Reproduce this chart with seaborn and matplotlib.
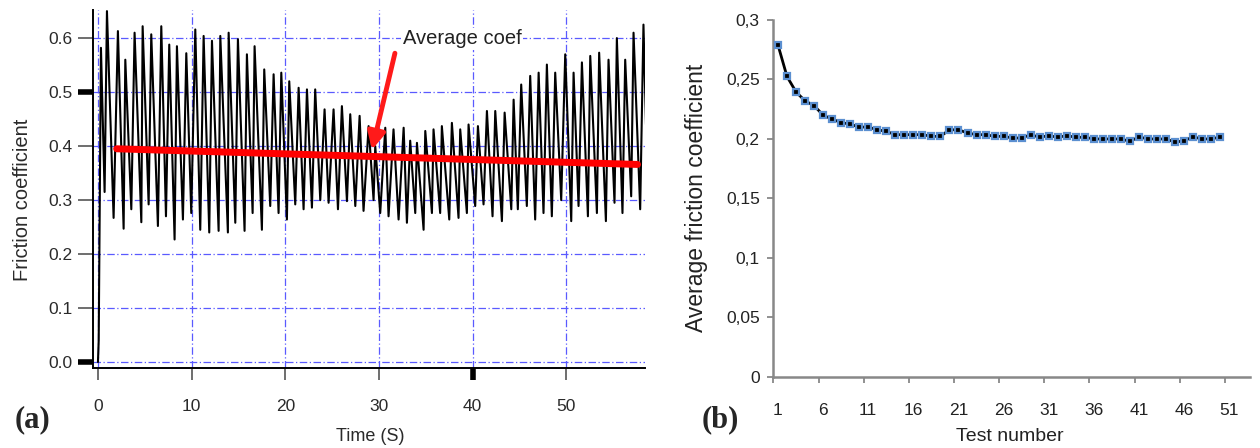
import matplotlib
matplotlib.use("Agg")
import matplotlib.pyplot as plt
import matplotlib.ticker as mticker
import numpy as np
import pandas as pd
import seaborn as sns

# ---- panel (a): friction signal, read peak by peak from the figure ----
start_t = [0.0, 0.08]
start_v = [0.0, 0.04]

peak_t = [0.32, 0.96, 2.13, 2.92, 3.91, 4.77, 5.69, 6.76, 7.61, 8.43, 9.43, 10.39, 11.28, 12.17, 13.06, 13.95,
          14.94, 15.90, 16.72, 17.75, 18.75, 19.57, 20.42, 21.42, 22.31, 23.19, 24.19, 25.15, 26.04, 26.93, 27.93, 28.89,
          29.60, 30.67, 31.55, 32.63, 33.33, 34.05, 34.94, 35.82, 36.71, 37.78, 38.67, 39.56, 40.56, 41.52, 42.41, 43.41, 44.37,
          45.18, 46.14, 47.04, 47.92, 48.81, 49.88, 50.77, 51.66, 52.55, 53.50, 54.50, 55.39, 56.28, 57.17, 58.23]
peak_v = [0.582, 0.650, 0.613, 0.560, 0.610, 0.622, 0.607, 0.622, 0.588, 0.585, 0.572, 0.616, 0.604, 0.595, 0.604, 0.610,
          0.598, 0.570, 0.585, 0.542, 0.533, 0.536, 0.520, 0.508, 0.505, 0.505, 0.468, 0.468, 0.474, 0.459, 0.456, 0.437,
          0.400, 0.434, 0.431, 0.434, 0.410, 0.406, 0.428, 0.431, 0.437, 0.443, 0.431, 0.440, 0.437, 0.465, 0.465, 0.462, 0.486,
          0.514, 0.530, 0.536, 0.551, 0.536, 0.570, 0.536, 0.555, 0.567, 0.573, 0.560, 0.600, 0.560, 0.610, 0.625]

trough_t = [0.71, 1.67, 2.74, 3.56, 4.63, 5.41, 6.40, 7.26, 8.18, 9.07, 9.96, 10.92, 11.88, 12.88, 13.87,
            14.66, 15.65, 16.51, 17.50, 18.39, 19.28, 20.17, 21.06, 21.95, 22.84, 23.73, 24.62, 25.62, 26.58, 27.47, 28.35,
            29.42, 30.13, 31.02, 32.09, 32.98, 33.87, 34.76, 35.65, 36.53, 37.50, 38.49, 39.38, 40.27, 41.16, 42.12, 43.12, 44.12,
            44.82, 45.78, 46.67, 47.56, 48.45, 49.45, 50.52, 51.30, 52.30, 53.26, 54.22, 55.14, 55.99, 56.92, 57.88]
trough_v = [0.315, 0.267, 0.247, 0.283, 0.259, 0.292, 0.252, 0.270, 0.227, 0.264, 0.276, 0.245, 0.240, 0.243, 0.240,
            0.258, 0.243, 0.276, 0.245, 0.289, 0.276, 0.264, 0.292, 0.283, 0.286, 0.300, 0.295, 0.283, 0.298, 0.289, 0.280,
            0.300, 0.276, 0.270, 0.264, 0.258, 0.276, 0.245, 0.276, 0.276, 0.264, 0.267, 0.276, 0.289, 0.292, 0.270, 0.261, 0.283,
            0.283, 0.289, 0.264, 0.276, 0.270, 0.300, 0.261, 0.289, 0.270, 0.276, 0.261, 0.295, 0.276, 0.307, 0.283]

end_t = [58.5]
end_v = [0.44]

avg_t = [2.0, 57.6]
avg_v = [0.395, 0.366]

# ---- panel (b): average friction per test ----
test_no = list(range(1, 51))
avg_coef = [0.279, 0.2525, 0.2395, 0.232, 0.228, 0.220, 0.2166, 0.2138, 0.2124, 0.210,
            0.210, 0.2077, 0.2064, 0.2036, 0.2036, 0.2036, 0.2036, 0.2022, 0.2022, 0.2077,
            0.2077, 0.205, 0.2036, 0.2036, 0.2022, 0.2022, 0.2008, 0.2008, 0.2036, 0.2014,
            0.2028, 0.2014, 0.2028, 0.2014, 0.2014, 0.200, 0.200, 0.200, 0.200, 0.198,
            0.2017, 0.200, 0.200, 0.200, 0.1972, 0.1986, 0.2017, 0.200, 0.200, 0.2017]

sns.set_style("white")
plt.rcParams["font.family"] = ["Liberation Sans", "DejaVu Sans"]

sig = pd.DataFrame({
    "t": start_t + peak_t + trough_t + end_t,
    "v": start_v + peak_v + trough_v + end_v,
}).sort_values("t")

fig = plt.figure(figsize=(12.6, 4.48), dpi=100)
ax1 = fig.add_axes([0.0738, 0.1786, 0.438, 0.799])
ax2 = fig.add_axes([0.6135, 0.1585, 0.3786, 0.797])

# panel (a)
sns.lineplot(data=sig, x="t", y="v", ax=ax1, color="black", lw=1.5,
             estimator=None, sort=False, zorder=3)
sns.lineplot(x=avg_t, y=avg_v, ax=ax1, color="#ff0000", lw=5, zorder=4,
             solid_capstyle="round")
ax1.set_xlim(-0.53, 58.38)
ax1.set_ylim(-0.011, 0.652)
ax1.set_xticks(np.arange(0, 51, 10))
ax1.set_yticks(np.round(np.arange(0, 0.61, 0.1), 1))
ax1.yaxis.set_major_formatter(mticker.FormatStrFormatter("%.1f"))
ax1.grid(True, color="#5a5aff", lw=0.9, linestyle=(0, (6, 2, 1, 2)), zorder=0)
ax1.set_axisbelow(True)
for s in ["top", "right"]:
    ax1.spines[s].set_visible(False)
for s in ["left", "bottom"]:
    ax1.spines[s].set_color("black")
    ax1.spines[s].set_linewidth(1.4)
ax1.tick_params(axis="y", length=10.5, width=1.2, color="#555555", pad=4,
                labelsize=12.5, labelcolor="#2a2a2a", left=True)
ax1.tick_params(axis="x", length=8.5, width=1.2, color="#555555", pad=14,
                labelsize=12.5, labelcolor="#2a2a2a", bottom=True)
ax1.set_xlabel("")
ax1.set_ylabel("")
for i in (0, 5):
    tk = ax1.yaxis.get_major_ticks()[i]
    tk.tick1line.set_markeredgewidth(4)
    tk.tick1line.set_markeredgecolor("black")
tk = ax1.xaxis.get_major_ticks()[4]
tk.tick1line.set_markeredgewidth(4)
tk.tick1line.set_markeredgecolor("black")

ax1.annotate("", xy=(29.25, 0.393), xytext=(31.7, 0.572),
             arrowprops=dict(arrowstyle="-|>", color="#ff1a1a", lw=3.5,
                             mutation_scale=26, shrinkA=0, shrinkB=0), zorder=5)
ax1.text(32.55, 0.599, "Average coef", fontsize=14.5, color="#222222",
         ha="left", va="center", zorder=5,
         bbox=dict(facecolor="white", edgecolor="none", pad=1))

fig.text(0.0175, 0.5536, "Friction coefficient", rotation=90, ha="center",
         va="center", fontsize=14.5, color="#2a2a2a")
fig.text(0.2937, 0.0246, "Time (S)", ha="center", va="center",
         fontsize=13, color="#2a2a2a")
fig.text(0.026, 0.0625, "(a)", ha="center", va="center", fontsize=22,
         fontweight="bold", family=["Liberation Serif", "DejaVu Serif"])

# panel (b)
sns.lineplot(x=test_no, y=avg_coef, ax=ax2, color="black", lw=2, marker="s",
             markersize=5, markerfacecolor="black", markeredgecolor="#5b8fd0",
             markeredgewidth=1.6, zorder=3)
ax2.set_xlim(0.45, 53.3)
ax2.set_ylim(0, 0.3)
ax2.set_xticks(np.arange(1, 52, 5))
ax2.set_xticks(np.arange(0.5, 51, 5), minor=True)
ax2.set_yticks(np.round(np.arange(0, 0.301, 0.05), 2))
ax2.yaxis.set_major_formatter(
    mticker.FuncFormatter(lambda v, _: f"{v:g}".replace(".", ",")))
for s in ["top", "right"]:
    ax2.spines[s].set_visible(False)
for s in ["left", "bottom"]:
    ax2.spines[s].set_color("#888888")
    ax2.spines[s].set_linewidth(1.8)
ax2.tick_params(axis="y", length=4.5, width=1.3, color="#888888", pad=5,
                labelsize=12.5, labelcolor="#222222", left=True)
ax2.tick_params(axis="x", which="major", length=0, pad=19, labelsize=12.5,
                labelcolor="#222222", bottom=True)
ax2.tick_params(axis="x", which="minor", length=4.5, width=1.3,
                color="#888888", bottom=True)
ax2.set_xlabel("")
ax2.set_ylabel("")

fig.text(0.553, 0.558, "Average friction coefficient", rotation=90,
         ha="center", va="center", fontsize=16.5, color="#222222")
fig.text(0.8016, 0.0246, "Test number", ha="center", va="center",
         fontsize=14, color="#222222")
fig.text(0.5715, 0.0625, "(b)", ha="center", va="center", fontsize=22,
         fontweight="bold", family=["Liberation Serif", "DejaVu Serif"])

fig.savefig("out.png", dpi=100)
